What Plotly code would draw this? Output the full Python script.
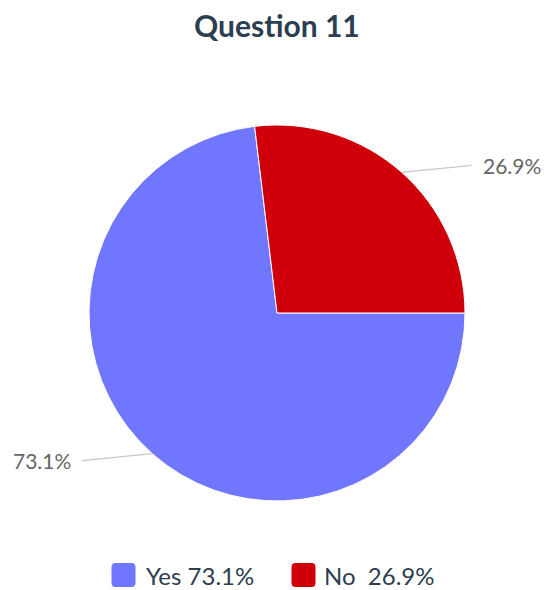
import math
import plotly.graph_objects as go

# Data
title = "Question 11"
labels = ["Yes", "No"]
values = [73.1, 26.9]
colors = ["#7176FF", "#D0000A"]

W, H = 544, 590
CX, CY, R = 277, 313, 188  # pixel geometry of the pie

def px(x):
    return x / W

def py(y):
    return 1 - y / H

fig = go.Figure(go.Pie(
    labels=labels,
    values=values,
    sort=False,
    direction="clockwise",
    rotation=90,
    textinfo="none",
    hoverinfo="label+percent",
    marker=dict(colors=colors, line=dict(color="white", width=1)),
    domain=dict(x=[px(CX - R), px(CX + R)], y=[py(CY + R), py(CY - R)]),
    showlegend=False,
))

shapes = []
annotations = []

# Leader lines and outside labels, computed from data
total = sum(values)
start = 0.0  # degrees clockwise from 3 o'clock
for lab, v in zip(labels, values):
    span = 360.0 * v / total
    mid = math.radians(start + span / 2)
    start += span
    ex = CX + R * math.cos(mid)
    ey = CY + R * math.sin(mid)
    side = 1 if math.cos(mid) >= 0 else -1
    vdir = 1 if math.sin(mid) >= 0 else -1
    lx = ex + side * 70
    ly = ey + vdir * 7
    shapes.append(dict(type="line", xref="paper", yref="paper",
                       x0=px(ex), y0=py(ey), x1=px(lx), y1=py(ly),
                       line=dict(color="#C8C8C8", width=1.2)))
    annotations.append(dict(xref="paper", yref="paper", x=px(lx + side * 9), y=py(ly),
                            text=f"{v:.1f}%", showarrow=False,
                            xanchor="left" if side > 0 else "right", yanchor="middle",
                            font=dict(family="Lato", size=21, color="#666666")))

# Custom legend
leg_y = 575
sq = 23
leg_items = [(112, 145), (292, 323)]
for (sx, tx), lab, v, c in zip(leg_items, labels, values, colors):
    x0, x1 = sx, sx + sq
    y0, y1 = leg_y - sq / 2, leg_y + sq / 2
    r = 3
    path = (f"M {px(x0 + r)},{py(y0)} L {px(x1 - r)},{py(y0)} Q {px(x1)},{py(y0)} {px(x1)},{py(y0 + r)} "
            f"L {px(x1)},{py(y1 - r)} Q {px(x1)},{py(y1)} {px(x1 - r)},{py(y1)} "
            f"L {px(x0 + r)},{py(y1)} Q {px(x0)},{py(y1)} {px(x0)},{py(y1 - r)} "
            f"L {px(x0)},{py(y0 + r)} Q {px(x0)},{py(y0)} {px(x0 + r)},{py(y0)} Z")
    shapes.append(dict(type="path", xref="paper", yref="paper", path=path,
                       fillcolor=c, line=dict(color=c, width=1)))
    gap = " " if lab == "Yes" else "&nbsp; "
    annotations.append(dict(xref="paper", yref="paper", x=px(tx - 1), y=py(leg_y),
                            text=f"{lab}{gap}{v:.1f}%", showarrow=False,
                            xanchor="left", yanchor="middle",
                            font=dict(family="Lato", size=24, color="#2C3E50")))

annotations.append(dict(xref="paper", yref="paper", x=px(277), y=py(25),
                        text=f"<b>{title}</b>", showarrow=False,
                        xanchor="center", yanchor="middle",
                        font=dict(family="Lato", size=30, color="#2C3E50")))

fig.update_layout(
    width=W, height=H,
    margin=dict(l=0, r=0, t=0, b=0),
    paper_bgcolor="white",
    plot_bgcolor="white",
    shapes=shapes,
    annotations=annotations,
    showlegend=False,
)

fig.write_html("out.html",
               config={"displayModeBar": False},
               post_script="document.body.style.margin='0px';document.body.style.overflow='hidden';")
